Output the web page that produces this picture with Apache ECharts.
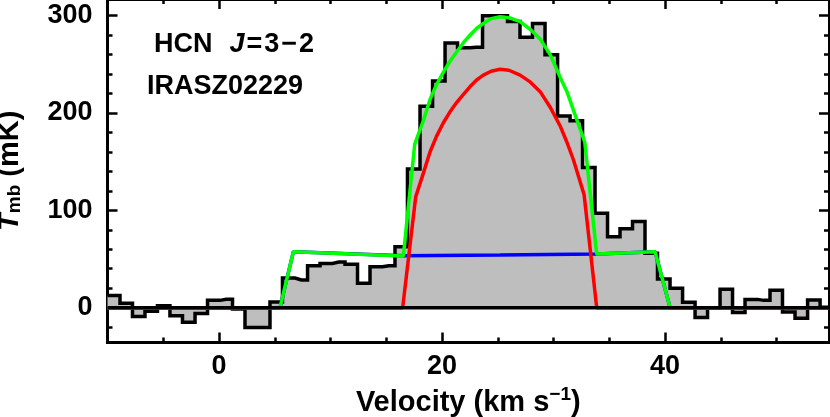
<!DOCTYPE html>
<html><head><meta charset="utf-8">
<script src="https://cdn.jsdelivr.net/npm/echarts@6/dist/echarts.min.js"></script>
<style>html,body{margin:0;padding:0;background:#fff}#c{width:830px;height:417px}</style>
</head><body><div id="c"></div>
<script>
// ---- data ----
const velocity = [-9.44,-8.32,-7.20,-6.08,-4.96,-3.84,-2.71,-1.59,-0.47,0.65,1.77,2.89,4.01,5.13,6.25,7.38,8.50,9.62,10.74,11.86,12.98,14.10,15.22,16.34,17.46,18.59,19.71,20.83,21.95,23.07,24.19,25.31,26.43,27.55,28.67,29.80,30.92,32.04,33.16,34.28,35.40,36.52,37.64,38.76,39.88,41.01,42.13,43.25,44.37,45.49,46.61,47.73,48.85,49.97,51.09,52.22,53.34,54.46];
const tmb = [12.5,4.5,-9,-3.8,2,-8.3,-15,-6,7.5,8.7,-1.5,-20.5,-20.5,5.8,30.5,28.5,43,45.5,47,44.5,25,42,43,62.5,142.5,207,233,272,267,267.5,300,300,294,278,292,260,197,192,144,97,73,81,88.5,56,29.5,20,5.5,-10,0,19,-5,8.5,7.5,18,-4.5,-11,8,0.5];
const fitTotalV = [-10,5.47,6.67,16.53,17.55,18.32,18.92,19.5,20.12,20.7,21.32,21.9,22.5,23.1,23.7,24.4,25.2,26.0,27.0,27.9,28.8,29.7,30.58,31.2,31.78,32.8,33.87,39.1,40.45,54.7];
const fitTotalT = [0,0,57.5,53.1,168,192,214,229,242,253,263,272,280,287,292,297,299,298,294,286,276,260,237,222,203,170,55.2,57.5,0,0];
const fitNarrowV = [-10,16.47,17.64,18.32,18.92,19.5,20.12,20.7,21.32,21.9,22.5,23.1,23.7,24.4,25.2,26.0,27.0,27.9,28.8,29.7,30.58,31.2,31.78,32.74,33.87,54.7];
const fitNarrowT = [0,0,114,138,160,176,190,201,211,219,227,234,239,243,245,244,239,232,222,206,187,170,152,116,0,0];
const fitBroadV = [-10,5.47,6.67,16.53,25.2,33.87,39.1,40.45,54.7];
const fitBroadT = [0,0,57.5,53.3,54.2,55.2,57.5,0,0];
const xMajorTicks = [0,20,40];
const xMinorTicks = [-5,5,10,15,25,30,35,45,50];
const yMajorTicks = [0,100,200,300];
const yMinorTicks = [-20,20,40,60,80,120,140,160,180,220,240,260,280];
const X_MIN = -10, X_MAX = 54.7, Y_MIN = -35.8, Y_MAX = 317.2;

const FONT = 'Liberation Sans';
const pair = (xs, ys) => xs.map((x, i) => [x, ys[i]]);
const stepData = [[X_MIN, tmb[0]]].concat(pair(velocity, tmb), [[X_MAX, tmb[tmb.length - 1]]]);

function mkAxis(kind, pos, ticks, len, labels, extra) {
  const isX = kind === 'x';
  return Object.assign({
    type: 'value', position: pos,
    min: isX ? X_MIN : Y_MIN, max: isX ? X_MAX : Y_MAX,
    axisLine: { show: true, onZero: false, lineStyle: { color: '#000', width: 3 } },
    axisTick: { show: true, inside: true, length: len, customValues: ticks, lineStyle: { color: '#000', width: 2.5 } },
    axisLabel: labels ? { show: true, customValues: labels, color: '#000', fontFamily: FONT, fontWeight: 'bold', fontSize: 27, margin: isX ? 11 : 15 } : { show: false },
    splitLine: { show: false }
  }, extra || {});
}

const txt = { fontFamily: FONT, fontWeight: 'bold', fontSize: 27, fill: '#000' };
const chart = echarts.init(document.getElementById('c'), null, { renderer: 'canvas' });
chart.setOption({
  animation: false,
  backgroundColor: '#fff',
  grid: { left: 107.5, right: 1, top: -1, bottom: 74.5, containLabel: false, outerBoundsMode: 'none' },
  xAxis: [
    mkAxis('x', 'bottom', xMajorTicks, 10, xMajorTicks, {
      name: '{a|Velocity (km s}{p|−1}{a|)}', nameLocation: 'middle', nameGap: 38,
      nameTextStyle: { rich: {
        a: { fontFamily: FONT, fontWeight: 'bold', fontSize: 29, color: '#000', verticalAlign: 'bottom', lineHeight: 32 },
        p: { fontFamily: FONT, fontWeight: 'bold', fontSize: 19, color: '#000', verticalAlign: 'top', lineHeight: 32 }
      } }
    }),
    mkAxis('x', 'bottom', xMinorTicks, 5, null),
    mkAxis('x', 'top', xMajorTicks, 10, null),
    mkAxis('x', 'top', xMinorTicks, 5, null)
  ],
  yAxis: [
    mkAxis('y', 'left', yMajorTicks, 10, yMajorTicks, {
      name: '{t|T}{s|mb}{n| (mK)}', nameLocation: 'middle', nameGap: 83, nameRotate: 90,
      nameTextStyle: { rich: {
        t: { fontFamily: FONT, fontWeight: 'bold', fontStyle: 'italic', fontSize: 29, color: '#000', verticalAlign: 'bottom', lineHeight: 32 },
        s: { fontFamily: FONT, fontWeight: 'bold', fontSize: 19, color: '#000', verticalAlign: 'bottom', lineHeight: 27 },
        n: { fontFamily: FONT, fontWeight: 'bold', fontSize: 29, color: '#000', verticalAlign: 'bottom', lineHeight: 32 }
      } }
    }),
    mkAxis('y', 'left', yMinorTicks, 5, null),
    mkAxis('y', 'right', yMajorTicks, 10, null),
    mkAxis('y', 'right', yMinorTicks, 5, null)
  ],
  graphic: [
    { type: 'text', left: 154, top: 31, z: 100, style: {
      text: '{r|HCN  }{i|J}{g|=}{g|3}{g|−}{g|2}',
      rich: {
        r: txt,
        i: Object.assign({}, txt, { fontStyle: 'italic', padding: [0, 0, 0, 2] }),
        g: Object.assign({}, txt, { padding: [0, 0, 0, 2] })
      } } },
    { type: 'text', left: 147, top: 73, z: 100, style: Object.assign({ text: 'IRASZ02229' }, txt) }
  ],
  series: [
    { name: 'spectrum', type: 'line', step: 'middle', data: stepData, symbol: 'none', z: 2,
      lineStyle: { color: '#000', width: 3.5, join: 'miter' },
      areaStyle: { color: '#bebebe', opacity: 1, origin: 0 } },
    { name: 'broad', type: 'line', data: pair(fitBroadV, fitBroadT), symbol: 'none', z: 3,
      lineStyle: { color: '#0000ff', width: 3.5 } },
    { name: 'narrow', type: 'line', data: pair(fitNarrowV, fitNarrowT), symbol: 'none', z: 4,
      lineStyle: { color: '#ff0000', width: 3.5 } },
    { name: 'total', type: 'line', data: pair(fitTotalV, fitTotalT), symbol: 'none', z: 5,
      lineStyle: { color: '#00ff00', width: 3.5 } },
    { name: 'zero', type: 'line', data: [[X_MIN, 0], [X_MAX, 0]], symbol: 'none', z: 6,
      lineStyle: { color: '#000', width: 3.5 } }
  ]
});
</script></body></html>
